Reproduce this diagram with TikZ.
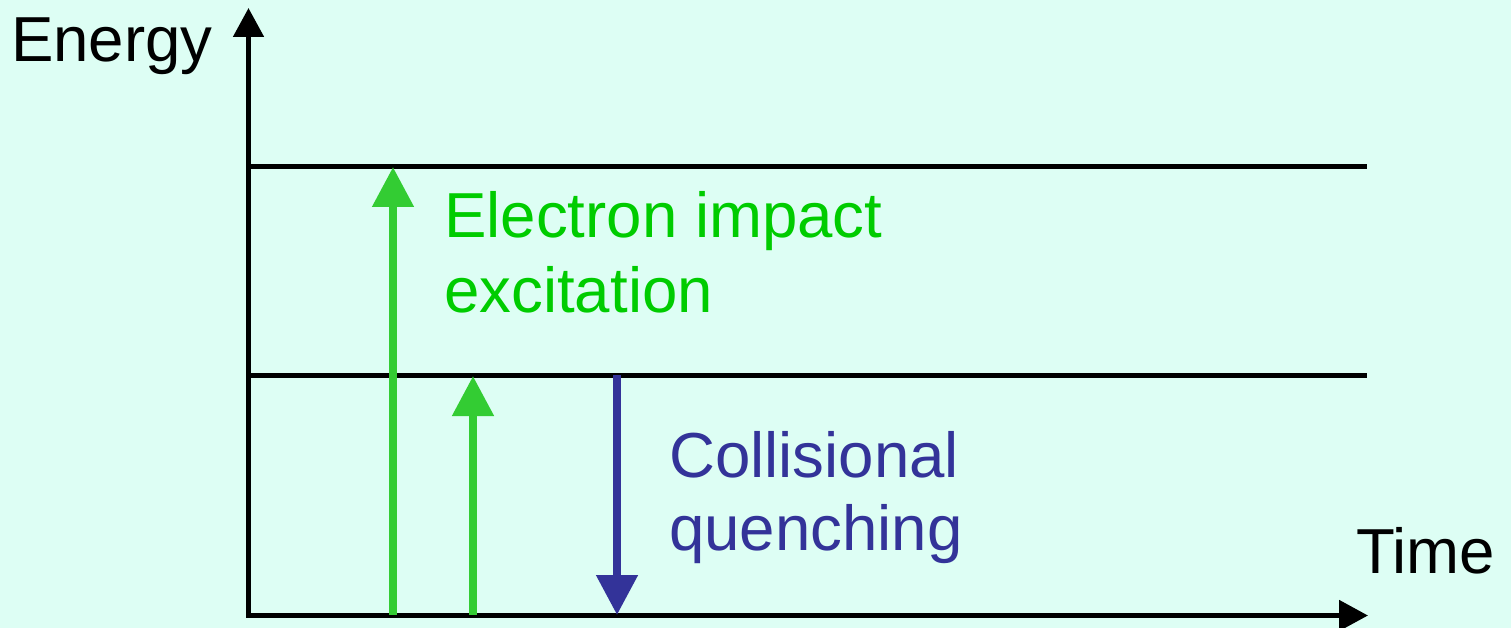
\documentclass[tikz,border=0pt]{standalone}
\usepackage{fontspec}
\setmainfont{Liberation Sans}
\usetikzlibrary{arrows.meta}
\definecolor{bgmint}{RGB}{221,254,244}
\definecolor{exgreen}{RGB}{51,204,51}
\definecolor{extext}{RGB}{0,204,0}
\definecolor{qblue}{RGB}{51,51,153}
\tikzset{
  axisline/.style={line width=5pt, black, -{Triangle[width=30pt,length=29pt]}},
  levelline/.style={line width=5pt, black},
  excite/.style={line width=8pt, exgreen, -{Triangle[width=40pt,length=40pt]}},
  quench/.style={line width=8pt, qblue, -{Triangle[width=40pt,length=40pt]}},
  label/.style={inner sep=0pt, anchor=base west, font=\fontsize{63.6}{76}\selectfont},
}
\begin{document}
\begin{tikzpicture}[x=1pt, y=-1pt]
  \fill[bgmint] (0,0) rectangle (1511,628);
  \useasboundingbox (0,0) rectangle (1511,628);

  % axes
  \coordinate (origin) at (248.5,615.5);
  \coordinate (etop) at (248.5,8);
  \coordinate (tend) at (1368,615.5);
  \draw[axisline] (origin) -- (etop);
  \draw[axisline] ([xshift=-2.5pt]origin) -- (tend);

  % energy levels
  \coordinate (upL) at (246,167);
  \coordinate (upR) at (1367,167);
  \coordinate (midL) at (246,375.5);
  \coordinate (midR) at (1367,375.5);
  \draw[levelline] (upL) -- (upR);
  \draw[levelline] (midL) -- (midR);

  % transitions
  \coordinate (a1s) at (393,615);
  \coordinate (a1e) at (393,167);
  \coordinate (a2s) at (473,615);
  \coordinate (a2e) at (473,376);
  \coordinate (qs) at (617,375);
  \coordinate (qe) at (617,615);
  \draw[excite] (a1s) -- (a1e);
  \draw[excite] (a2s) -- (a2e);
  \draw[quench] (qs) -- (qe);

  % labels
  \node[label] (energy) at (11,62) {Energy};
  \node[label] (time) at (1356,573) {Time};
  \node[label, extext] (exc1) at (444,237) {Electron impact};
  \node[label, extext] (exc2) at (444,312) {excitation};
  \node[label, qblue] (q1) at (669,477) {Collisional};
  \node[label, qblue] (q2) at (669,550) {quenching};
\end{tikzpicture}
\end{document}
